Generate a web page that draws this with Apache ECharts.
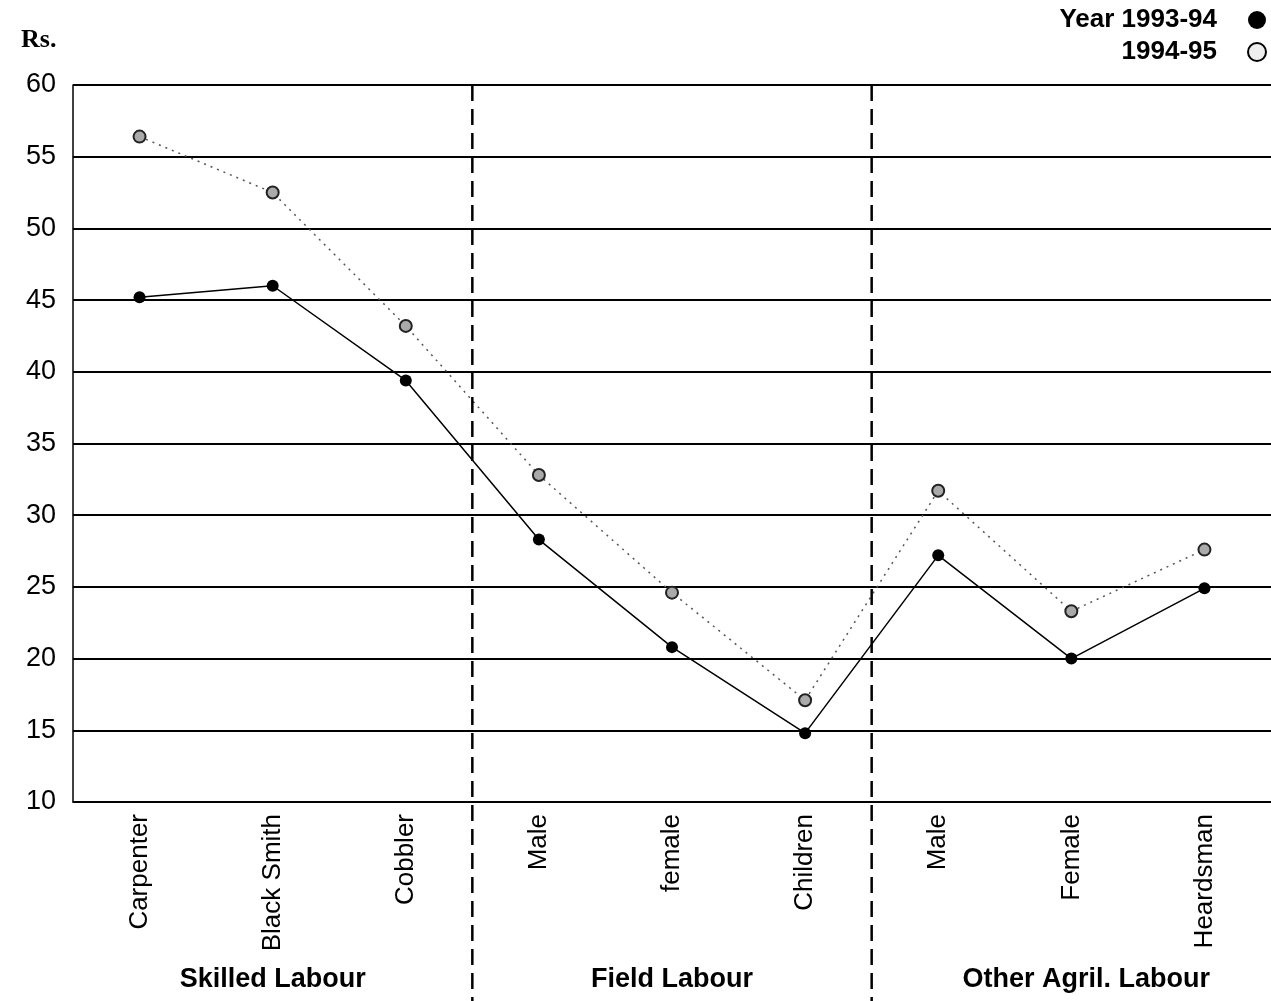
<!DOCTYPE html>
<html>
<head>
<meta charset="utf-8">
<script src="https://cdn.jsdelivr.net/npm/echarts@6/dist/echarts.min.js"></script>
<style>html,body{margin:0;padding:0;background:#fff;}#c{width:1271px;height:1001px;}</style>
</head>
<body>
<div id="c"></div>
<script>
var categories = ['Carpenter','Black Smith','Cobbler','Male','female','Children','Male ','Female','Heardsman'];
var groups = [
  {name:'Skilled Labour', from:0, to:2},
  {name:'Field Labour', from:3, to:5},
  {name:'Other Agril. Labour', from:6, to:8}
];
var y1993 = [45.2, 46.0, 39.4, 28.3, 20.8, 14.8, 27.2, 20.0, 24.9];
var y1994 = [56.4, 52.5, 43.2, 32.8, 24.6, 17.1, 31.7, 23.3, 27.6];
var seriesNames = ['Year 1993-94', '1994-95'];
var yTicks = {min:10, max:60, interval:5};

var chart = echarts.init(document.getElementById('c'));
var option = {
  animation:false,
  backgroundColor:'#fff',
  title:{text:'Rs.', left:16, top:22, textStyle:{fontFamily:'Liberation Serif', fontWeight:'bold', fontSize:26, color:'#000'}},
  legend:{
    orient:'vertical', right:4, top:7, padding:0, align:'right', itemGap:6, itemWidth:18, itemHeight:18,
    formatter:function(n){ return '{t|' + n + '}'; },
    textStyle:{fontFamily:'Liberation Sans', fontWeight:'bold', fontSize:26, color:'#000',
      rich:{t:{fontFamily:'Liberation Sans', fontWeight:'bold', fontSize:26, color:'#000', padding:[0,26,0,0]}}},
    data:[
      {name:seriesNames[0], icon:'circle', itemStyle:{color:'#000'}},
      {name:seriesNames[1], icon:'circle', itemStyle:{color:'#eee', borderColor:'#000', borderWidth:2}}
    ]
  },
  grid:{left:73, width:1204, top:85, bottom:199, containLabel:false},
  xAxis:{
    type:'category', data:categories, boundaryGap:true,
    axisLine:{show:true, lineStyle:{color:'#000', width:1.5}},
    axisTick:{show:false},
    axisLabel:{rotate:90, interval:0, margin:12, fontFamily:'Liberation Sans', fontSize:26, color:'#000',
      formatter:function(v){return v.trim();}},
    splitLine:{show:false}
  },
  yAxis:{
    type:'value', min:yTicks.min, max:yTicks.max, interval:yTicks.interval,
    axisLine:{show:true, lineStyle:{color:'#000', width:1.5}},
    axisTick:{show:false},
    axisLabel:{margin:17, fontFamily:'Liberation Sans', fontSize:27, color:'#000'},
    splitLine:{show:true, lineStyle:{color:'#000', width:2}}
  },
  series:[
    {name:seriesNames[0], type:'line', data:y1993, symbol:'circle', symbolSize:12,
      itemStyle:{color:'#000'}, lineStyle:{color:'#000', width:1.5}, z:3},
    {name:seriesNames[1], type:'line', data:y1994, symbol:'circle', symbolSize:12,
      itemStyle:{color:'#aaa', borderColor:'#222', borderWidth:2},
      lineStyle:{color:'#555', width:1.5, type:[2,5]}, z:2}
  ]
};
chart.setOption(option);

// group dividers and group labels, positioned via the axis scale
var graphics = [];
var band = chart.convertToPixel({xAxisIndex:0}, categories[1]) - chart.convertToPixel({xAxisIndex:0}, categories[0]);
var yTop = chart.convertToPixel({yAxisIndex:0}, yTicks.max);
groups.forEach(function(g, i){
  var mid = chart.convertToPixel({xAxisIndex:0}, categories[Math.round((g.from+g.to)/2)]);
  if (i === 2) mid += 15;
  graphics.push({type:'text', x:mid, y:980, style:{text:g.name, x:0, y:0,
    textAlign:'center', textVerticalAlign:'middle', fill:'#000',
    font:'bold 27px "Liberation Sans"'}});
  if (i > 0) {
    var x = chart.convertToPixel({xAxisIndex:0}, categories[g.from]) - band/2;
    graphics.push({type:'line', shape:{x1:x, y1:yTop, x2:x, y2:1001},
      style:{stroke:'#000', lineWidth:2.5, lineDash:[16,8]}, z:5});
  }
});
chart.setOption({graphic:graphics});
</script>
</body>
</html>
